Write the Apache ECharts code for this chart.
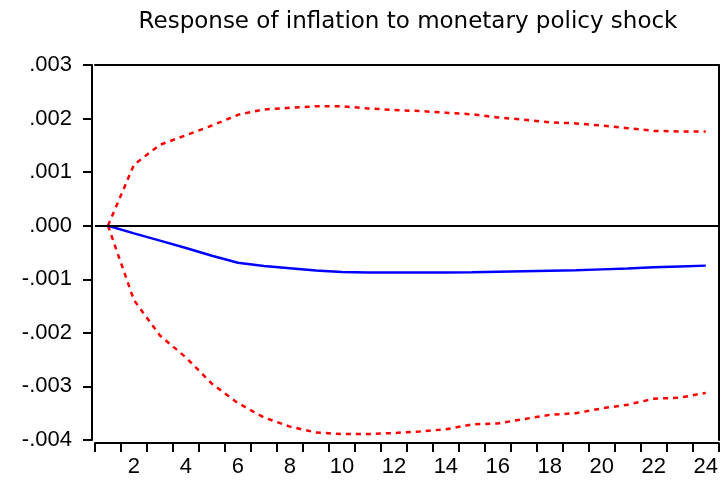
<!DOCTYPE html>
<html>
<head>
<meta charset="utf-8">
<title>Response of inflation to monetary policy shock</title>
<script src="https://cdn.jsdelivr.net/npm/echarts@6/dist/echarts.min.js"></script>
<style>
  html, body { margin: 0; padding: 0; background: #fff; }
  #chart { width: 721px; height: 480px; }
</style>
</head>
<body>
<div id="chart"></div>
<script>
// Horizon (periods after the shock)
const periods = ['1','2','3','4','5','6','7','8','9','10','11','12',
                 '13','14','15','16','17','18','19','20','21','22','23','24'];

// Impulse response of inflation (point estimate)
const response = [0, -0.000143, -0.000278, -0.000417, -0.000562, -0.000692,
                  -0.000751, -0.000792, -0.000835, -0.000863, -0.000872, -0.000874,
                  -0.000874, -0.000872, -0.000870, -0.000860, -0.000850, -0.000840,
                  -0.000830, -0.000815, -0.000800, -0.000775, -0.000760, -0.000745];

// Upper confidence band (+2 S.E.)
const upperBand = [0, 0.00114, 0.00151, 0.00169, 0.00187, 0.00207,
                   0.00217, 0.00220, 0.00223, 0.00223, 0.00219, 0.00216,
                   0.00214, 0.00211, 0.00208, 0.00202, 0.00198, 0.00193,
                   0.00191, 0.00187, 0.00182, 0.00177, 0.00176, 0.00176];

// Lower confidence band (-2 S.E.)
const lowerBand = [0, -0.00139, -0.00205, -0.00246, -0.00295, -0.00331,
                   -0.00358, -0.00375, -0.00386, -0.00389, -0.00389, -0.00387,
                   -0.00384, -0.00380, -0.00371, -0.00369, -0.00361, -0.00353,
                   -0.00350, -0.00341, -0.00334, -0.00323, -0.00321, -0.00312];

// Value axis range and step
const yMin = -0.004;
const yMax = 0.003;
const yStep = 0.001;

const chartTitle = 'Response of inflation to monetary policy shock';

// EViews-style tick text: ".003", "-.001", ".000"
function tickText(v) {
  const s = Math.abs(v).toFixed(3).replace(/^0/, '');
  return (v < -1e-9 ? '-' : '') + s;
}

const chart = echarts.init(document.getElementById('chart'), null, { renderer: 'canvas' });

const labelFont = { fontFamily: '"Liberation Sans", Arial, sans-serif', fontSize: 22, color: '#000' };
const frameLine = { show: true, onZero: false, lineStyle: { color: '#000', width: 2 } };

chart.setOption({
  animation: false,
  backgroundColor: '#fff',
  title: {
    text: chartTitle,
    left: 403,
    top: 6,
    textAlign: 'center',
    textStyle: {
      fontFamily: '"DejaVu Sans", Verdana, sans-serif',
      fontSize: 23,
      fontWeight: 'normal',
      color: '#000'
    }
  },
  grid: { left: 95, right: 2, top: 65, bottom: 40, containLabel: false },
  xAxis: [
    {
      type: 'category',
      data: periods,
      boundaryGap: true,
      position: 'bottom',
      offset: 3,
      axisLine: frameLine,
      axisTick: { show: true, interval: 0, length: 9, lineStyle: { color: '#000', width: 2 } },
      axisLabel: Object.assign({
        interval: function (idx) { return idx % 2 === 1; },
        margin: 13
      }, labelFont),
      splitLine: { show: false }
    },
    {
      type: 'category',
      data: periods,
      position: 'top',
      axisLine: frameLine,
      axisTick: { show: false },
      axisLabel: { show: false },
      splitLine: { show: false }
    }
  ],
  yAxis: [
    {
      type: 'value',
      min: yMin,
      max: yMax,
      interval: yStep,
      position: 'left',
      offset: 3,
      axisLine: frameLine,
      axisTick: { show: true, length: 9, lineStyle: { color: '#000', width: 2 } },
      axisLabel: Object.assign({ margin: 20, formatter: tickText }, labelFont),
      splitLine: { show: false }
    },
    {
      type: 'value',
      min: yMin,
      max: yMax,
      interval: yStep,
      position: 'right',
      axisLine: frameLine,
      axisTick: { show: false },
      axisLabel: { show: false },
      splitLine: { show: false }
    }
  ],
  series: [
    {
      name: 'Upper',
      type: 'line',
      data: upperBand,
      symbol: 'none',
      lineStyle: { color: '#ff0000', width: 2.5, type: [5, 5] },
      z: 3
    },
    {
      name: 'Lower',
      type: 'line',
      data: lowerBand,
      symbol: 'none',
      lineStyle: { color: '#ff0000', width: 2.5, type: [5, 5] },
      z: 3
    },
    {
      name: 'Response',
      type: 'line',
      data: response,
      symbol: 'none',
      lineStyle: { color: '#0000ff', width: 2.5 },
      z: 4,
      markLine: {
        silent: true,
        symbol: 'none',
        label: { show: false },
        lineStyle: { color: '#000', width: 2, type: 'solid' },
        data: [{ yAxis: 0 }]
      }
    }
  ]
});
</script>
</body>
</html>
